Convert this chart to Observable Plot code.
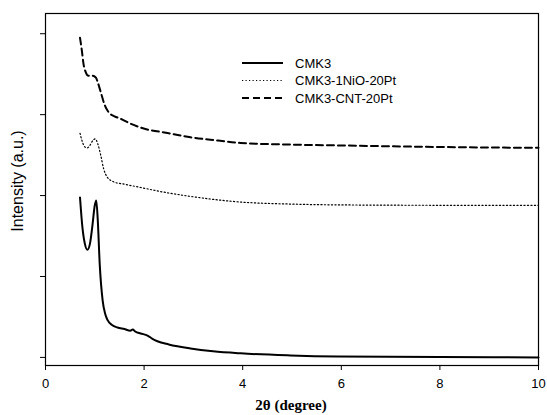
<!DOCTYPE html>
<html>
<head>
<meta charset="utf-8">
<script src="https://cdn.jsdelivr.net/npm/d3@7"></script>
<script src="https://cdn.jsdelivr.net/npm/@observablehq/plot@0.6"></script>
<style>
  html, body { margin: 0; padding: 0; background: #fff; }
  #wrap { position: relative; width: 547px; height: 415px; }
  #legend { position: absolute; left: 0; top: 0; }
</style>
</head>
<body>
<div id="wrap"></div>
<script>
// Series names
const seriesNames = ["CMK3", "CMK3-1NiO-20Pt", "CMK3-CNT-20Pt"];

// CMK3 (solid)
const cmk3X = [0.70, 0.75, 0.80, 0.85, 0.90, 0.95, 1.00, 1.03, 1.06, 1.10, 1.16, 1.21, 1.26, 1.35, 1.46, 1.60, 1.72, 1.77, 1.82, 1.93, 2.07, 2.17, 2.27, 2.50, 2.94, 3.40, 3.96, 4.97, 5.92, 8.00, 10.0];
const cmk3Y = [1.975, 1.60, 1.40, 1.33, 1.40, 1.62, 1.88, 1.94, 1.70, 1.15, 0.70, 0.54, 0.46, 0.40, 0.37, 0.35, 0.33, 0.345, 0.32, 0.296, 0.27, 0.23, 0.20, 0.16, 0.11, 0.075, 0.05, 0.025, 0.012, 0.004, 0.0];

// CMK3-1NiO-20Pt (dotted)
const nioX = [0.70, 0.75, 0.80, 0.85, 0.90, 0.96, 1.01, 1.06, 1.12, 1.18, 1.25, 1.38, 1.60, 1.93, 2.33, 2.94, 3.96, 4.97, 5.92, 8.00, 10.0];
const nioY = [2.77, 2.66, 2.60, 2.59, 2.62, 2.68, 2.70, 2.64, 2.50, 2.33, 2.23, 2.17, 2.14, 2.10, 2.05, 1.99, 1.92, 1.895, 1.885, 1.88, 1.88];

// CMK3-CNT-20Pt (dashed)
const cntX = [0.70, 0.74, 0.77, 0.82, 0.87, 0.95, 1.02, 1.06, 1.12, 1.20, 1.28, 1.40, 1.52, 1.72, 1.93, 2.50, 2.94, 3.50, 3.96, 4.97, 5.92, 8.00, 10.0];
const cntY = [3.95, 3.78, 3.63, 3.52, 3.48, 3.48, 3.46, 3.40, 3.28, 3.12, 3.03, 2.98, 2.95, 2.89, 2.84, 2.77, 2.72, 2.68, 2.65, 2.63, 2.62, 2.60, 2.59];

// Axis ticks
const xTicks = [0, 2, 4, 6, 8, 10];
const yTicks = [0, 1, 2, 3, 4];

const rows = [];
cmk3X.forEach((x, i) => rows.push({series: seriesNames[0], x, y: cmk3Y[i]}));
nioX.forEach((x, i) => rows.push({series: seriesNames[1], x, y: nioY[i]}));
cntX.forEach((x, i) => rows.push({series: seriesNames[2], x, y: cntY[i]}));

const styles = {
  "CMK3": {strokeWidth: 2, dash: null},
  "CMK3-1NiO-20Pt": {strokeWidth: 1.2, dash: "1.2,2.3"},
  "CMK3-CNT-20Pt": {strokeWidth: 2, dash: "7,4"}
};

const lineMarks = seriesNames.map(name => Plot.line(rows.filter(d => d.series === name), {
  x: "x", y: "y", stroke: "black", strokeWidth: styles[name].strokeWidth,
  strokeDasharray: styles[name].dash, curve: "monotone-x"
}));

const chart = Plot.plot({
  width: 547,
  height: 415,
  marginLeft: 45,
  marginRight: 9,
  marginTop: 13,
  marginBottom: 50,
  style: {fontFamily: "Liberation Sans, Arial, sans-serif", fontSize: "13px", color: "black", background: "white"},
  x: {domain: [0, 10], label: null},
  y: {domain: [-0.1, 4.25], label: null},
  marks: [
    Plot.frame({stroke: "black", strokeWidth: 1.2}),
    Plot.axisX({ticks: xTicks, tickSize: 5, tickPadding: 8, fontSize: 13, label: null}),
    Plot.axisY({ticks: yTicks, tickSize: 5, tickFormat: () => "", label: null}),
    ...lineMarks
  ]
});

const wrap = document.getElementById("wrap");
wrap.appendChild(chart);

// Axis titles and legend as an overlay SVG
const ns = "http://www.w3.org/2000/svg";
const ov = document.createElementNS(ns, "svg");
ov.setAttribute("id", "legend");
ov.setAttribute("width", 547);
ov.setAttribute("height", 415);

function addText(x, y, str, opts = {}) {
  const t = document.createElementNS(ns, "text");
  t.setAttribute("x", x); t.setAttribute("y", y);
  t.setAttribute("font-family", opts.family || "Liberation Sans, Arial, sans-serif");
  t.setAttribute("font-size", opts.size || 12);
  if (opts.weight) t.setAttribute("font-weight", opts.weight);
  if (opts.anchor) t.setAttribute("text-anchor", opts.anchor);
  if (opts.transform) t.setAttribute("transform", opts.transform);
  t.setAttribute("fill", "black");
  t.textContent = str;
  ov.appendChild(t);
  return t;
}

addText(291, 410, "2θ (degree)", {family: "Liberation Serif, Times New Roman, serif", size: 15, weight: "bold", anchor: "middle"});
addText(0, 0, "Intensity (a.u.)", {size: 16, anchor: "middle", transform: "translate(23,181) rotate(-90)"});

const legendY = [63, 80.5, 98];
seriesNames.forEach((name, i) => {
  const l = document.createElementNS(ns, "line");
  l.setAttribute("x1", 242); l.setAttribute("x2", 283);
  l.setAttribute("y1", legendY[i]); l.setAttribute("y2", legendY[i]);
  l.setAttribute("stroke", "black");
  l.setAttribute("stroke-width", styles[name].strokeWidth);
  if (styles[name].dash) l.setAttribute("stroke-dasharray", styles[name].dash);
  ov.appendChild(l);
  addText(295, legendY[i] + 4.6, name, {size: 13});
});
wrap.appendChild(ov);
</script>
</body>
</html>
